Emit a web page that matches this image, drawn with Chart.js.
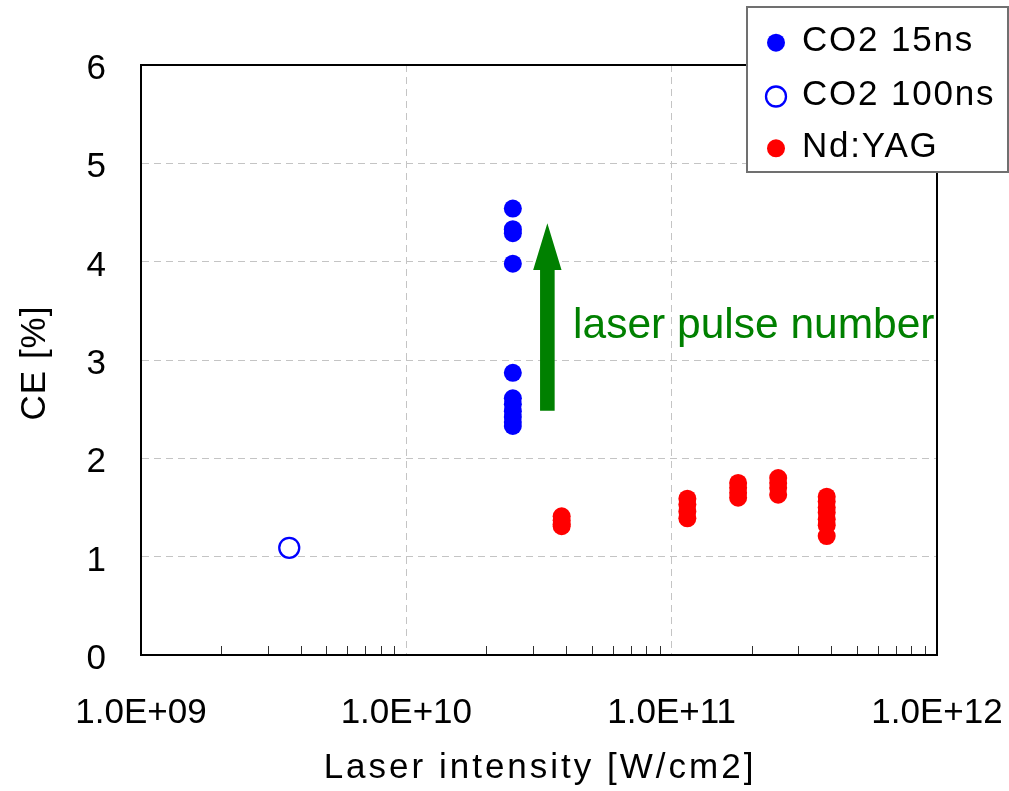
<!DOCTYPE html>
<html><head><meta charset="utf-8">
<script src="https://cdn.jsdelivr.net/npm/chart.js@4.4.0/dist/chart.umd.min.js"></script>
<style>html,body{margin:0;padding:0;background:#fff;}</style>
</head><body>
<canvas id="c" width="1009" height="791" style="display:block;width:1009px;height:791px"></canvas>
<script>
// ---- data ----
const xTickValues = [1e9, 1e10, 1e11, 1e12];
const xTickLabels = ['1.0E+09', '1.0E+10', '1.0E+11', '1.0E+12'];
const yTickValues = [0, 1, 2, 3, 4, 5, 6];

const co2_15ns_x = [2.52e10, 2.52e10, 2.52e10, 2.52e10, 2.52e10, 2.52e10, 2.52e10, 2.52e10, 2.52e10, 2.52e10, 2.52e10];
const co2_15ns_y = [4.54, 4.33, 4.29, 3.98, 2.87, 2.61, 2.55, 2.48, 2.42, 2.37, 2.33];

const co2_100ns_x = [3.62e9];
const co2_100ns_y = [1.09];

const ndyag_x = [3.85e10, 3.85e10, 3.85e10, 3.85e10,
                 1.146e11, 1.146e11, 1.146e11, 1.146e11,
                 1.78e11, 1.78e11, 1.78e11, 1.78e11,
                 2.52e11, 2.52e11, 2.52e11, 2.52e11,
                 3.84e11, 3.84e11, 3.84e11, 3.84e11, 3.84e11, 3.84e11, 3.84e11];
const ndyag_y = [1.41, 1.37, 1.33, 1.31,
                 1.59, 1.53, 1.46, 1.39,
                 1.75, 1.70, 1.65, 1.60,
                 1.80, 1.75, 1.70, 1.63,
                 1.61, 1.56, 1.50, 1.45, 1.38, 1.32, 1.21];

const seriesNames = ['CO2 15ns', 'CO2 100ns', 'Nd:YAG'];
const annotationText = 'laser pulse number';
const annotationPos = [4.25e10, 3.22];       // x value, y value of text baseline-left
const arrowX = 3.40e10, arrowBottom = 2.485, arrowHeadBase = 3.915, arrowTip = 4.39;
const xTitle = 'Laser intensity [W/cm2]';
const yTitle = 'CE [%]';

const pts = (xs, ys) => xs.map((v, i) => ({x: v, y: ys[i]}));

const FONT = '"Liberation Sans", Arial, sans-serif';
const GREEN = '#008000';

const overlay = {
  id: 'overlay',
  beforeDatasetsDraw(chart) {
    const {ctx, chartArea: a, scales: {x}} = chart;
    ctx.save();
    ctx.strokeStyle = '#303030'; ctx.lineWidth = 1;
    for (let d = 9; d < 12; d++) for (let m = 2; m <= 9; m++) {
      const px = Math.round(x.getPixelForValue(m * Math.pow(10, d))) + 0.5;
      ctx.beginPath(); ctx.moveTo(px, a.bottom); ctx.lineTo(px, a.bottom - 9); ctx.stroke();
    }
    ctx.strokeStyle = '#000'; ctx.lineWidth = 2;
    ctx.strokeRect(a.left, a.top, a.right - a.left, a.bottom - a.top);
    ctx.restore();
  },
  afterDraw(chart) {
    const {ctx, chartArea: a, scales: {x, y}} = chart;
    ctx.save();
    // arrow
    const cx = x.getPixelForValue(arrowX);
    const yb = y.getPixelForValue(arrowBottom), yh = y.getPixelForValue(arrowHeadBase), yt = y.getPixelForValue(arrowTip);
    const sw = 7.3, hw = 14.2;
    ctx.fillStyle = GREEN;
    ctx.beginPath();
    ctx.moveTo(cx - sw, yb); ctx.lineTo(cx - sw, yh); ctx.lineTo(cx - hw, yh); ctx.lineTo(cx, yt);
    ctx.lineTo(cx + hw, yh); ctx.lineTo(cx + sw, yh); ctx.lineTo(cx + sw, yb); ctx.closePath(); ctx.fill();
    // annotation text
    ctx.font = '42.5px ' + FONT; ctx.textAlign = 'left'; ctx.textBaseline = 'alphabetic';
    ctx.fillText(annotationText, x.getPixelForValue(annotationPos[0]), y.getPixelForValue(annotationPos[1]));
    // axis titles
    ctx.fillStyle = '#000';
    ctx.letterSpacing = '3px';
    ctx.font = '35px ' + FONT; ctx.textAlign = 'left';
    const tw = ctx.measureText(xTitle).width - 3;
    ctx.fillText(xTitle, 538.5 - tw / 2, 778);
    ctx.letterSpacing = '1px';
    ctx.translate(35, 363); ctx.rotate(-Math.PI / 2);
    ctx.font = '35px ' + FONT; ctx.textBaseline = 'middle'; ctx.textAlign = 'center';
    ctx.fillText(yTitle, 0, 0);
    ctx.restore();
    // legend
    ctx.save();
    ctx.fillStyle = '#fff'; ctx.fillRect(747, 7, 261, 165);
    ctx.strokeStyle = '#707070'; ctx.lineWidth = 2; ctx.strokeRect(747, 7, 261, 165);
    const rows = [42.7, 96.5, 148.3];
    const ds = chart.data.datasets;
    rows.forEach((ry, i) => {
      const d = ds[i];
      ctx.beginPath(); ctx.arc(776, ry, i === 1 ? 10 : 9, 0, Math.PI * 2);
      if (i === 1) { ctx.fillStyle = '#fff'; ctx.fill(); ctx.strokeStyle = d.borderColor; ctx.lineWidth = 2.3; ctx.stroke(); }
      else { ctx.fillStyle = d.backgroundColor; ctx.fill(); }
      ctx.fillStyle = '#000'; ctx.font = '35px ' + FONT; ctx.letterSpacing = '1.8px';
      ctx.textAlign = 'left'; ctx.textBaseline = 'middle';
      ctx.fillText(seriesNames[i], 802, ry - 1);
    });
    ctx.restore();
  }
};

new Chart(document.getElementById('c'), {
  type: 'scatter',
  data: {
    datasets: [
      {label: seriesNames[0], data: pts(co2_15ns_x, co2_15ns_y), backgroundColor: '#0000ff', borderColor: '#0000ff', pointRadius: 9, borderWidth: 0},
      {label: seriesNames[1], data: pts(co2_100ns_x, co2_100ns_y), backgroundColor: '#ffffff', borderColor: '#0000ff', pointRadius: 10, borderWidth: 2.3},
      {label: seriesNames[2], data: pts(ndyag_x, ndyag_y), backgroundColor: '#ff0000', borderColor: '#ff0000', pointRadius: 9, borderWidth: 0}
    ]
  },
  options: {
    responsive: false, animation: false, devicePixelRatio: 1, events: [],
    layout: {padding: {left: 0, top: 65, right: 72, bottom: 0}},
    plugins: {legend: {display: false}, tooltip: {enabled: false}},
    scales: {
      x: {
        type: 'logarithmic', min: 1e9, max: 1e12,
        afterBuildTicks: s => { s.ticks = xTickValues.map(v => ({value: v, major: true})); },
        afterFit: s => { s.height = 136; s.paddingLeft = 0; s.paddingRight = 0; },
        ticks: {callback: v => { const i = xTickValues.indexOf(v); return i >= 0 ? xTickLabels[i] : ''; },
                font: {family: FONT, size: 35}, color: '#000', padding: 37, maxRotation: 0, autoSkip: false},
        grid: {color: '#c4c4c4', drawTicks: false, lineWidth: 1},
        border: {display: true, color: '#000', width: 2, dash: [7, 5]},
      },
      y: {
        min: 0, max: 6,
        afterBuildTicks: s => { s.ticks = yTickValues.map(v => ({value: v})); },
        afterFit: s => { s.width = 141; s.paddingTop = 0; s.paddingBottom = 0; },
        ticks: {callback: v => ['', String(v)],
                font: {family: FONT, size: 35, lineHeight: '9px'}, color: '#000', padding: 35},
        grid: {color: '#c4c4c4', drawTicks: false, lineWidth: 1},
        border: {display: true, color: '#000', width: 2, dash: [7, 5]},
      }
    }
  },
  plugins: [overlay]
});
</script>
</body></html>
